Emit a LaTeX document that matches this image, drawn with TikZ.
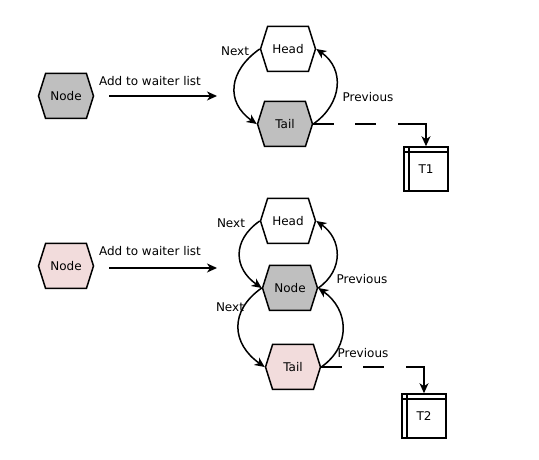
\documentclass[tikz,border=0pt]{standalone}
\usepackage{fontspec}
\setmainfont{DejaVu Sans}
\usepackage{tikz}
\usetikzlibrary{shapes.symbols}
\usetikzlibrary{arrows.meta}

\definecolor{hexgray}{HTML}{BFBFBF}
\definecolor{hexpink}{HTML}{F2DCDC}

\begin{document}
\begin{tikzpicture}[x=1pt,y=1pt,
        font=\fontsize{12}{14}\selectfont,
        hex/.style={signal, signal to=west and east, signal pointer angle=145,
          draw, line width=1.5pt, minimum width=55pt, minimum height=45pt, inner sep=0pt},
        tbox/.style={draw, line width=1.5pt, minimum width=44pt, minimum height=44pt,
          path picture={
            \draw[line width=1.2pt] ([xshift=5pt]path picture bounding box.north west) -- ([xshift=5pt]path picture bounding box.south west);
            \draw[line width=1.2pt] ([yshift=-5pt]path picture bounding box.north west) -- ([yshift=-5pt]path picture bounding box.north east);
          }},
        link/.style={line width=1.5pt, -{Stealth[length=10pt,width=9pt,inset=3pt]}},
        wait/.style={line width=1.5pt, dash pattern=on 21pt off 21pt on 21pt off 22pt on 45pt off 20pt,
          -{Stealth[length=10pt,width=9pt,inset=3pt]}}]
        \useasboundingbox (0,0) rectangle (539,460);
        % first case: one node in the list
        \node[hex,fill=hexgray] (new1) at (66,364) {Node};
        \node[hex,fill=white] (head1) at (288,411) {Head};
        \node[hex,fill=hexgray] (tail1) at (285,336) {Tail};
        \node[tbox] (t1) at (426,291) {T1};
        \coordinate (add1s) at (109,364);
        \coordinate (add1e) at (217,364);
        \draw[link] (add1s) -- (add1e);
        \node (addlbl1) at (150,379) {Add to waiter list};
        \draw[link] (head1.west) to[out=215,in=145,looseness=1.3] (tail1.west);
        \draw[link] (tail1.east) to[out=35,in=-35,looseness=1.2] (head1.east);
        \node (next1) at (235,409) {Next};
        \node (prev1) at (368,363) {Previous};
        \draw[wait] (tail1.east) -| (t1.north);
        % second case: node put between head and tail
        \node[hex,fill=hexpink] (new2) at (66,194) {Node};
        \node[hex,fill=white] (head2) at (288,239) {Head};
        \node[hex,fill=hexgray] (mid2) at (290,172) {Node};
        \node[hex,fill=hexpink] (tail2) at (293,93) {Tail};
        \node[tbox] (t2) at (424,44) {T2};
        \coordinate (add2s) at (109,192);
        \coordinate (add2e) at (217,192);
        \draw[link] (add2s) -- (add2e);
        \node (addlbl2) at (150,209) {Add to waiter list};
        \draw[link] (head2.west) to[out=215,in=145,looseness=1.3] (mid2.west);
        \draw[link] (mid2.west) to[out=215,in=145,looseness=1.3] (tail2.west);
        \draw[link] (mid2.east) to[out=35,in=-35,looseness=1.2] (head2.east);
        \draw[link] (tail2.east) to[out=35,in=-35,looseness=1.2] (mid2.east);
        \node (next2) at (231,237) {Next};
        \node (next3) at (230,153) {Next};
        \node (prev2) at (362,181) {Previous};
        \node (prev3) at (363,107) {Previous};
        \draw[wait] (tail2.east) -| (t2.north);
\end{tikzpicture}
\end{document}
